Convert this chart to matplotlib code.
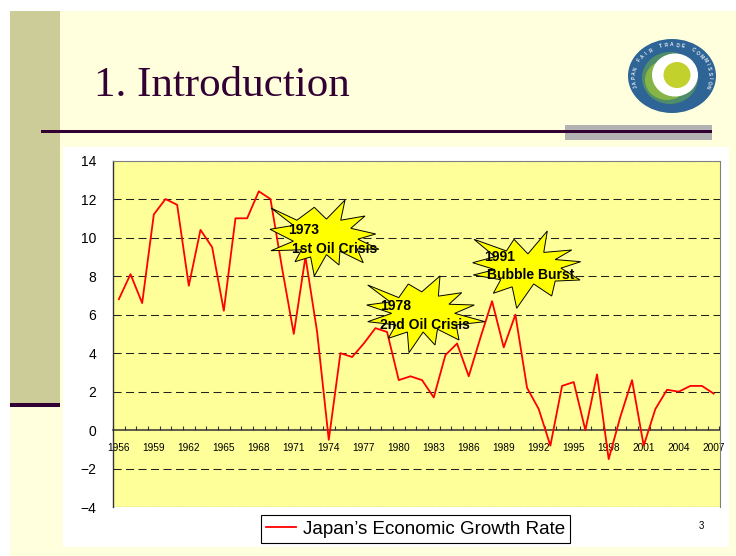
import matplotlib
matplotlib.use('Agg')
import matplotlib.pyplot as plt
from matplotlib.patches import Rectangle, Polygon, Ellipse
import numpy as np

plt.rcParams['font.family'] = ['Liberation Sans', 'DejaVu Sans']
plt.rcParams['lines.scale_dashes'] = False

# ---------------- data ----------------
years = list(range(1956, 2008))
growth = [6.8, 8.1, 6.6, 11.2, 12.0, 11.7, 7.5, 10.4, 9.5, 6.2,
          11.0, 11.0, 12.4, 12.0, 8.4, 5.0, 9.0, 5.1, -0.5, 4.0,
          3.8, 4.5, 5.3, 5.1, 2.6, 2.8, 2.6, 1.7, 3.9, 4.5,
          2.8, 4.8, 6.7, 4.3, 6.0, 2.2, 1.1, -0.8, 2.3, 2.5,
          0.0, 2.9, -1.5, 0.7, 2.6, -0.8, 1.1, 2.1, 2.0, 2.3,
          2.3, 1.9]
series_label = "Japan\u2019s Economic Growth Rate"
title = "1. Introduction"
y_ticks = list(range(-4, 15, 2))
x_label_step = 3
events = [("1973", "1st Oil Crisis"), ("1978", "2nd Oil Crisis"), ("1991", "Bubble Burst")]
logo_text = "JAPAN FAIR TRADE COMMISSION"

W, H = 736, 556
fig = plt.figure(figsize=(W / 100, H / 100), dpi=100)
fig.patch.set_facecolor('white')

# ---------------- slide background ----------------
bg = fig.add_axes([0, 0, 1, 1], zorder=0)
bg.set_xlim(0, W)
bg.set_ylim(H, 0)
bg.axis('off')


def rect(x0, y0, x1, y1, color, z=1):
    bg.add_patch(Rectangle((x0, y0), x1 - x0, y1 - y0, facecolor=color,
                           edgecolor='none', zorder=z))


rect(10, 11, W, H, '#FFFFDD', 1)            # cream slide
rect(10, 11, 60, 403, '#CCCC99', 2)         # olive side strip
rect(10, 403, 60, 407, '#330033', 3)        # dark bar under strip
rect(63, 147, 729, 547, '#FFFFFF', 2)       # white chart box
rect(565, 125, 712, 140, '#B2B2B2', 2)      # gray bar
rect(41, 130.2, 712, 132.8, '#330033', 3)   # title rule

bg.text(94, 96, title, fontsize=31, family=['Liberation Serif', 'DejaVu Serif'],
        color='#330033', ha='left', va='baseline', zorder=4)
bg.text(701, 526, "3", fontsize=7, ha='center', va='center', zorder=4)

# logo
cx, cy = 672, 76
bg.add_patch(Ellipse((cx, cy), 88, 74, facecolor='#2E6496', edgecolor='none', zorder=4))
bg.add_patch(Ellipse((cx - 2, cy + 2), 56, 52, facecolor='#4E8C6A', edgecolor='none', zorder=5))
bg.add_patch(Ellipse((cx - 5, cy + 4), 44, 40, facecolor='#86B545', edgecolor='none', zorder=5))
bg.add_patch(Ellipse((cx + 3, cy - 1), 46, 43, facecolor='#FFFFFF', edgecolor='none', zorder=6))
bg.add_patch(Ellipse((cx + 5, cy - 1), 27, 26, facecolor='#C2D12B', edgecolor='none', zorder=7))
n = len(logo_text)
angs = np.linspace(200, -20, n)
for ch, th in zip(logo_text, angs):
    t = np.deg2rad(th)
    px = cx + 38 * np.cos(t)
    py = cy - 31 * np.sin(t)
    bg.text(px, py, ch, fontsize=3.6, color='#E8EEF4', fontweight='bold',
            rotation=th - 90, ha='center', va='center', zorder=8)

# ---------------- chart ----------------
ax = fig.add_axes([113 / W, 1 - 507.3 / H, (719.5 - 113) / W, (507.3 - 160.5) / H], zorder=1)
ax.set_facecolor('#FFFF99')
x = np.arange(len(years))
ax.plot(x, growth, color='#FF0000', lw=1.3, label=series_label, zorder=4)
ax.set_xlim(-0.5, len(years) - 0.5)
ax.set_ylim(y_ticks[0], y_ticks[-1])

ax.set_yticks(y_ticks)
ax.tick_params(axis='y', length=0, pad=12, labelsize=10)
for v in y_ticks:
    if v != 0:
        ax.axhline(v, color='#222222', lw=0.75, linestyle=(0, (5.8, 3.2)), zorder=2)
ax.axhline(y_ticks[0], color='#808080', lw=0.8, zorder=1)

ax.spines['bottom'].set_position(('data', 0))
ax.spines['bottom'].set_color('#333333')
ax.spines['bottom'].set_linewidth(1.1)
ax.spines['left'].set_color('#333333')
ax.spines['left'].set_linewidth(1.0)
ax.spines['top'].set_color('#808080')
ax.spines['right'].set_color('#808080')
ax.spines['top'].set_linewidth(0.8)
ax.spines['right'].set_linewidth(0.8)

ax.set_xticks(np.arange(-0.5, len(years) + 0.5, 1))
ax.set_xticklabels([])
ax.set_xticks(x[::x_label_step], minor=True)
ax.set_xticklabels([str(y) for y in years[::x_label_step]], minor=True)
ax.tick_params(axis='x', which='major', direction='in', length=3, width=0.8, color='#333333')
ax.tick_params(axis='x', which='minor', length=0, pad=9, labelsize=7.3)

leg = ax.legend(loc='center', bbox_to_anchor=(415.5 / W, 1 - 529 / H),
                bbox_transform=fig.transFigure, frameon=True, fancybox=False,
                edgecolor='black', framealpha=1, facecolor='white', fontsize=13.5,
                handlelength=1.6, handletextpad=0.35, borderpad=0.28, borderaxespad=0)
leg.get_frame().set_linewidth(0.8)

# ---------------- starburst callouts ----------------
ov = fig.add_axes([0, 0, 1, 1], zorder=2)
ov.set_xlim(0, W)
ov.set_ylim(H, 0)
ov.axis('off')

bursts = [
    [(271.0, 208.0), (292.3, 217.3), (314.3, 207.3), (326.7, 216.0), (345.0, 200.0),
     (343.3, 217.3), (365.0, 216.0), (355.0, 226.7), (375.7, 234.0), (363.3, 239.3),
     (379.0, 249.3), (362.3, 250.7), (363.3, 262.7), (342.3, 253.3), (339.0, 265.0),
     (326.7, 257.3), (314.3, 276.0), (308.3, 260.0), (295.0, 261.7), (297.7, 251.7),
     (271.0, 250.7), (288.3, 241.7), (270.0, 229.3), (288.3, 223.3)],
    [(367.7, 285.0), (395.0, 295.0), (408.3, 284.0), (421.7, 288.3), (440.0, 276.0),
     (441.0, 293.3), (461.7, 292.7), (453.3, 302.7), (474.3, 305.0), (460.0, 313.3),
     (485.0, 321.7), (461.7, 326.7), (459.0, 340.0), (440.0, 331.7), (435.0, 345.0),
     (423.3, 335.0), (409.0, 352.7), (405.0, 335.0), (388.3, 338.3), (391.7, 326.7),
     (367.7, 321.7), (386.7, 313.3), (366.7, 305.0), (385.0, 300.0)],
    [(474.0, 239.3), (503.3, 248.3), (514.0, 239.3), (528.3, 251.7), (547.3, 231.0),
     (546.7, 250.0), (571.7, 250.0), (560.0, 258.3), (580.7, 261.7), (566.7, 268.3),
     (580.0, 280.0), (560.0, 283.3), (551.7, 296.0), (535.0, 286.7), (516.7, 308.3),
     (510.0, 290.0), (493.3, 293.3), (496.7, 281.7), (473.3, 275.0), (490.0, 270.0),
     (472.7, 262.7), (490.0, 255.0)],
]
text_pos = [((288.3, 230.0), (292.3, 249.3)),
            ((380.0, 306.0), (380.0, 325.0)),
            ((484.0, 257.3), (486.7, 275.0))]


def spikier(pts, k=0.86):
    arr = np.array(pts, dtype=float)
    c = arr.mean(axis=0)
    out = arr.copy()
    out[1::2] = c + (arr[1::2] - c) * k
    return out


for pts, (yr, lbl), (p1, p2) in zip(bursts, events, text_pos):
    ov.add_patch(Polygon(spikier(pts), closed=True, facecolor='#FFFF00', edgecolor='black',
                         lw=0.7, zorder=3))
    ov.text(p1[0], p1[1], yr, fontsize=10, fontweight='bold', ha='left', va='center', zorder=4)
    ov.text(p2[0], p2[1], lbl, fontsize=10, fontweight='bold', ha='left', va='center', zorder=4)

fig.savefig('out.png', dpi=100, facecolor=fig.get_facecolor())
